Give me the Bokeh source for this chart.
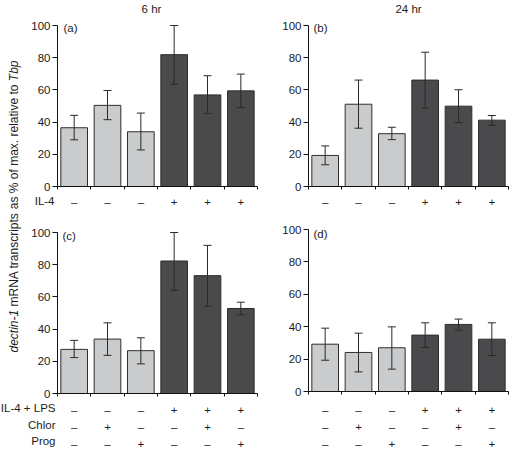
import math
from bokeh.plotting import figure
from bokeh.models import Label, FixedTicker, Range1d, LinearAxis
from bokeh.embed import file_html
from bokeh.resources import INLINE

# ---------------- data ----------------
groups = [0, 1, 2, 3, 4, 5]
shade = ["light", "light", "light", "dark", "dark", "dark"]
il4_signs = ["–", "–", "–", "+", "+", "+"]
lps_signs = ["–", "–", "–", "+", "+", "+"]
chlor_signs = ["–", "+", "–", "–", "+", "–"]
prog_signs = ["–", "–", "+", "–", "–", "+"]
y_ticks = [0, 20, 40, 60, 80, 100]

a_mean = [36.5, 50.4, 34.0, 81.9, 56.9, 59.4]
a_lo = [29.0, 41.5, 22.7, 63.5, 45.4, 49.0]
a_hi = [44.2, 59.6, 45.6, 100.0, 68.8, 69.8]

b_mean = [19.3, 51.1, 32.8, 66.1, 49.9, 41.2]
b_lo = [13.5, 36.2, 29.1, 48.6, 39.7, 38.0]
b_hi = [25.2, 66.1, 36.8, 83.4, 60.1, 44.1]

c_mean = [27.4, 33.8, 26.6, 82.3, 73.2, 52.8]
c_lo = [22.3, 23.7, 18.4, 64.1, 54.2, 48.9]
c_hi = [33.0, 43.9, 34.6, 100.0, 92.0, 56.7]

d_mean = [29.2, 24.1, 27.0, 34.8, 41.4, 32.3]
d_lo = [19.3, 12.1, 13.8, 27.2, 37.9, 22.2]
d_hi = [39.1, 36.0, 39.9, 42.4, 44.7, 42.4]

# ---------------- style ----------------
W, H = 512, 452
FONT = "Liberation Sans"
TXT = "#1c1c1c"
AXC = "#111111"
FILL = {"light": "#c9cbcc", "dark": "#4a4a4c"}
FS = "11.5px"
YL_FS = "12px"

# page coordinates are used for the free texts: x right, y down
p = figure(width=W, height=H, x_range=Range1d(0, W), y_range=Range1d(H, 0),
           min_border=0, x_axis_location=None, y_axis_location=None,
           output_backend="svg", toolbar_location=None)
p.outline_line_color = None
p.grid.visible = False
p.background_fill_color = "white"
p.border_fill_color = "white"


def text(t, x, y, align="left", size=FS, style="normal", angle=0.0):
    p.add_layout(Label(x=x, y=y, text=t, text_font=FONT, text_font_size=size,
                       text_font_style=style, text_color=TXT, text_align=align,
                       text_baseline="middle", angle=angle))


def panel(name, mean, lo, hi, box, sign_rows, standoff):
    L, T, R, B = box  # frame of the panel on the page
    sx = 6.0 / (R - L)
    sy = 100.0 / (B - T)
    xn, yn = "x_" + name, "y_" + name
    p.extra_x_ranges[xn] = Range1d(-L * sx, 6 + (W - R) * sx)
    p.extra_y_ranges[yn] = Range1d(-(H - B) * sy, 100 + T * sy)

    xs = [g + 0.5 for g in groups]
    p.vbar(x=xs, top=mean, width=0.8, bottom=0,
           fill_color=[FILL[s] for s in shade], line_color="#2e2e2e", line_width=1,
           x_range_name=xn, y_range_name=yn)
    p.segment(x0=xs, y0=lo, x1=xs, y1=hi, line_color="#2a2a2a", line_width=1,
              x_range_name=xn, y_range_name=yn)
    cw = 0.12
    for v in (lo, hi):
        p.segment(x0=[x - cw for x in xs], y0=v, x1=[x + cw for x in xs], y1=v,
                  line_color="#2a2a2a", line_width=1, x_range_name=xn, y_range_name=yn)

    ya = LinearAxis(x_range_name=xn, y_range_name=yn, fixed_location=0, bounds=(0, 100),
                    ticker=FixedTicker(ticks=y_ticks))
    ya.major_tick_in = 0
    ya.major_tick_out = 5
    ya.minor_tick_line_color = None
    ya.major_label_standoff = 2
    ya.major_label_text_font = FONT
    ya.major_label_text_font_size = FS
    ya.major_label_text_color = TXT
    ya.axis_line_color = AXC
    ya.major_tick_line_color = AXC
    p.add_layout(ya, "left")

    xa = LinearAxis(x_range_name=xn, y_range_name=yn, fixed_location=0, bounds=(0, 6),
                    ticker=FixedTicker(ticks=xs, minor_ticks=list(range(7))))
    xa.major_tick_in = 0
    xa.major_tick_out = 0
    xa.minor_tick_in = 0
    xa.minor_tick_out = 3
    xa.minor_tick_line_color = AXC
    xa.axis_line_color = AXC
    xa.major_label_overrides = {
        x: "\n".join(signs[i] for signs in sign_rows) for i, x in enumerate(xs)
    }
    xa.major_label_text_font = FONT
    xa.major_label_text_font_size = FS
    xa.major_label_text_color = TXT
    xa.major_label_text_line_height = 1.43
    xa.major_label_standoff = standoff
    p.add_layout(xa, "below")


panel("a", a_mean, a_lo, a_hi, (57, 25, 257, 186), [il4_signs], 6)
panel("b", b_mean, b_lo, b_hi, (308, 25, 508, 186), [il4_signs], 6)
panel("c", c_mean, c_lo, c_hi, (57, 232, 257, 393), [lps_signs, chlor_signs, prog_signs], 7)
panel("d", d_mean, d_lo, d_hi, (308, 229, 508, 391), [lps_signs, chlor_signs, prog_signs], 9)

# titles and panel tags
text("6 hr", 151, 8.5, align="center")
text("24 hr", 408, 8.5, align="center")
text("(a)", 63, 27.5)
text("(b)", 313, 27.5)
text("(c)", 62, 235)
text("(d)", 313, 233)

# row names of the treatment table
text("IL-4", 54, 200, align="right")
text("IL-4 + LPS", 55, 407.7, align="right")
text("Chlor", 55, 424, align="right")
text("Prog", 55, 440.7, align="right")

# y-axis title in pieces (regular / italic), each anchored at its lower end
text("dectin-1", 13, 352.0, size=YL_FS, style="italic", angle=math.pi / 2)
text("mRNA transcripts", 13, 306.0, size=YL_FS, angle=math.pi / 2)
text("as % of max. relative to", 13, 208.7, size=YL_FS, angle=math.pi / 2)
text("Tbp", 13, 80.7, size=YL_FS, style="italic", angle=math.pi / 2)

open("out.html", "w").write(file_html(p, INLINE))
